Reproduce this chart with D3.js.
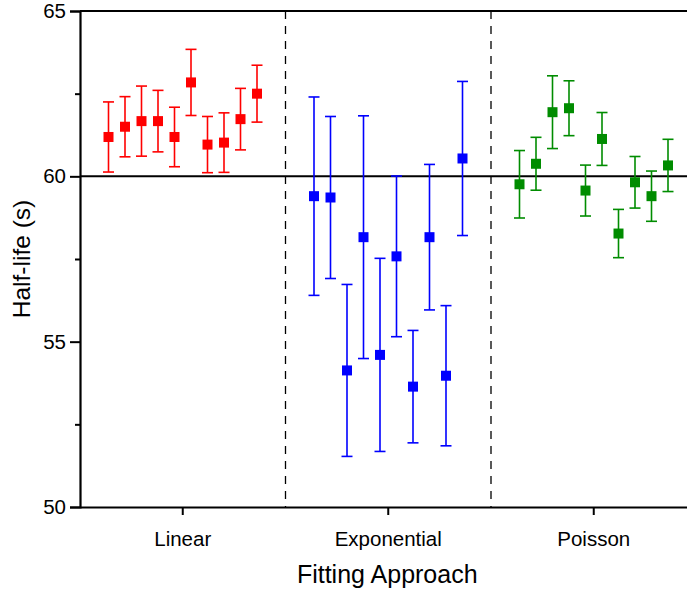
<!DOCTYPE html>
<html>
<head>
<meta charset="utf-8">
<script src="https://cdn.jsdelivr.net/npm/d3@7"></script>
<style>
  html, body { margin: 0; padding: 0; background: #fff; }
  svg { display: block; font-family: "Liberation Sans", Arial, sans-serif; }
</style>
</head>
<body>
<svg id="chart" width="687" height="590"></svg>
<script>
// Fitting methods shown along the x axis
const categories = ["Linear", "Exponential", "Poisson"];
const seriesColors = ["#ff0000", "#0000ff", "#008c00"];

// Half-life estimates (s) for ten runs per method
const linearValues      = [61.19, 61.50, 61.67, 61.67, 61.19, 62.84, 60.96, 61.02, 61.73, 62.50];
const linearErrors      = [1.06, 0.91, 1.06, 0.93, 0.90, 1.00, 0.85, 0.90, 0.93, 0.86];
const exponentialValues = [59.40, 59.36, 54.13, 58.16, 54.60, 57.58, 53.64, 58.16, 53.97, 60.54];
const exponentialErrors = [3.00, 2.45, 2.60, 3.67, 2.92, 2.43, 1.70, 2.20, 2.12, 2.33];
const poissonValues     = [59.76, 60.38, 61.94, 62.06, 59.57, 61.13, 58.27, 59.82, 59.40, 60.33];
const poissonErrors     = [1.02, 0.80, 1.10, 0.83, 0.77, 0.80, 0.73, 0.78, 0.76, 0.79];

const yMajorTicks = [50, 55, 60, 65];
const yMinorTicks = [52.5, 57.5, 62.5];
const referenceValue = 60;

const series = [
  { name: categories[0], values: linearValues, errors: linearErrors, color: seriesColors[0] },
  { name: categories[1], values: exponentialValues, errors: exponentialErrors, color: seriesColors[1] },
  { name: categories[2], values: poissonValues, errors: poissonErrors, color: seriesColors[2] }
];

const svg = d3.select("#chart");
const plotLeft = 80, plotRight = 696.5, plotTop = 11, plotBottom = 507;

const x = d3.scaleBand().domain(categories).range([plotLeft, plotRight]).padding(0);
const runIndex = d3.range(10);
const xOffset = d3.scalePoint().domain(runIndex).range([-74.25, 74.25]);
const y = d3.scaleLinear().domain([50, 65]).range([plotBottom, plotTop]);

// Top frame line
svg.append("line")
  .attr("x1", plotLeft).attr("x2", 687)
  .attr("y1", y(65)).attr("y2", y(65))
  .attr("stroke", "#000").attr("stroke-width", 1.8);

// Dashed separators between methods
const separators = categories.slice(1).map(c => x(c));
svg.selectAll("line.sep").data(separators).enter().append("line")
  .attr("class", "sep")
  .attr("x1", d => d).attr("x2", d => d)
  .attr("y1", y(65)).attr("y2", y(50))
  .attr("stroke", "#000").attr("stroke-width", 1.3)
  .attr("stroke-dasharray", "8,7");

// Reference line at 60 s
svg.append("line")
  .attr("x1", plotLeft).attr("x2", 687)
  .attr("y1", y(referenceValue)).attr("y2", y(referenceValue))
  .attr("stroke", "#000").attr("stroke-width", 2);

// Error bars and markers
const capHalf = 5.5, marker = 10;
series.forEach(s => {
  const g = svg.append("g");
  const pts = s.values.map((v, i) => ({ v, e: s.errors[i], cx: x(s.name) + x.bandwidth() / 2 + xOffset(i) }));
  g.selectAll("line.bar").data(pts).enter().append("line")
    .attr("x1", d => d.cx).attr("x2", d => d.cx)
    .attr("y1", d => y(d.v - d.e)).attr("y2", d => y(d.v + d.e))
    .attr("stroke", s.color).attr("stroke-width", 1.6);
  g.selectAll("line.capt").data(pts).enter().append("line")
    .attr("x1", d => d.cx - capHalf).attr("x2", d => d.cx + capHalf)
    .attr("y1", d => y(d.v + d.e)).attr("y2", d => y(d.v + d.e))
    .attr("stroke", s.color).attr("stroke-width", 1.6);
  g.selectAll("line.capb").data(pts).enter().append("line")
    .attr("x1", d => d.cx - capHalf).attr("x2", d => d.cx + capHalf)
    .attr("y1", d => y(d.v - d.e)).attr("y2", d => y(d.v - d.e))
    .attr("stroke", s.color).attr("stroke-width", 1.6);
  g.selectAll("rect").data(pts).enter().append("rect")
    .attr("x", d => d.cx - marker / 2).attr("y", d => y(d.v) - marker / 2)
    .attr("width", marker).attr("height", marker)
    .attr("fill", s.color);
});

// Y axis
const yAxis = svg.append("g")
  .attr("transform", `translate(${plotLeft},0)`)
  .call(d3.axisLeft(y).tickValues(yMajorTicks).tickFormat(d3.format("d")).tickSize(10).tickPadding(4));
svg.append("g")
  .attr("transform", `translate(${plotLeft},0)`)
  .call(d3.axisLeft(y).tickValues(yMinorTicks).tickFormat("").tickSize(5))
  .call(g => g.select(".domain").remove())
  .selectAll("line").attr("stroke-width", 2);
yAxis.select(".domain").attr("stroke-width", 2.2);
yAxis.selectAll(".tick line").attr("stroke-width", 2);
yAxis.selectAll("text").attr("font-size", 20.5).attr("fill", "#000")
  .attr("font-family", "Liberation Sans, Arial, sans-serif");

// X axis
const xAxis = svg.append("g")
  .attr("transform", `translate(0,${plotBottom})`)
  .call(d3.axisBottom(x).tickSize(8).tickSizeOuter(0).tickPadding(16));
xAxis.select(".domain").attr("stroke-width", 2.2).attr("d", `M${plotLeft},0.5H687`);
xAxis.selectAll(".tick line").attr("stroke-width", 2);
xAxis.selectAll("text").attr("font-size", 20.5).attr("fill", "#000")
  .attr("font-family", "Liberation Sans, Arial, sans-serif");

// Axis titles
svg.append("text")
  .attr("x", (plotLeft + plotRight) / 2 - 1).attr("y", 583)
  .attr("text-anchor", "middle").attr("font-size", 25)
  .text("Fitting Approach");
svg.append("text")
  .attr("transform", `translate(30,${(plotTop + plotBottom) / 2}) rotate(-90)`)
  .attr("text-anchor", "middle").attr("font-size", 24.5)
  .text("Half-life (s)");
</script>
</body>
</html>
